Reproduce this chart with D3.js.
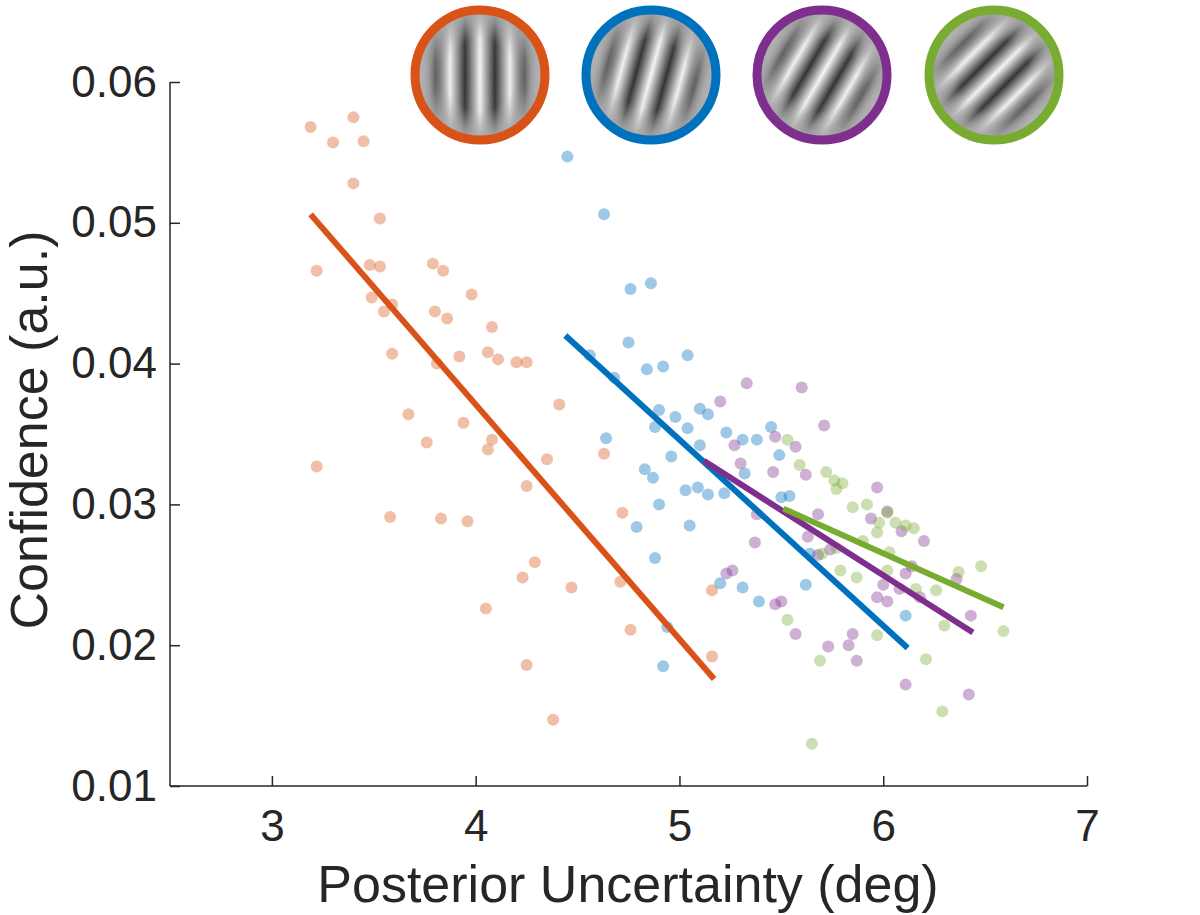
<!DOCTYPE html>
<html><head><meta charset="utf-8">
<script src="https://cdn.jsdelivr.net/npm/d3@7"></script>
<style>body{margin:0;background:#fff}</style></head>
<body><svg id="c" width="1200" height="915"></svg>
<script>
const xTicks=[3,4,5,6,7];
const yTicks=[0.01,0.02,0.03,0.04,0.05,0.06];
const colors=["#D95319","#0072BD","#7E2F8E","#77AC30"];
const orientations=[0,15,30,45];
const orangePts=[[3.19,0.0568],[3.30,0.0557],[3.40,0.0575],[3.45,0.0558],[3.40,0.0528],[3.53,0.0503],[3.22,0.0466],[3.48,0.0470],[3.53,0.0469],[3.49,0.0447],[3.55,0.0437],[3.59,0.0442],[3.59,0.0407],[3.79,0.0471],[3.84,0.0466],[3.80,0.0437],[3.86,0.0432],[3.81,0.0400],[3.92,0.0405],[3.98,0.0449],[4.08,0.0426],[4.06,0.0408],[4.11,0.0403],[4.20,0.0401],[4.25,0.0401],[4.41,0.0371],[3.67,0.0364],[3.76,0.0344],[3.94,0.0358],[4.08,0.0346],[4.06,0.0339],[4.35,0.0332],[3.22,0.0327],[4.25,0.0313],[3.58,0.0291],[3.83,0.0290],[3.96,0.0288],[4.63,0.0336],[4.72,0.0294],[4.29,0.0259],[4.23,0.0248],[4.47,0.0241],[4.71,0.0245],[5.16,0.0239],[4.76,0.0211],[4.05,0.0226],[4.25,0.0186],[4.38,0.0147],[5.16,0.0192]];
const bluePts=[[4.45,0.0547],[4.63,0.0506],[4.76,0.0453],[4.86,0.0457],[4.75,0.0415],[4.56,0.0406],[4.68,0.0390],[4.84,0.0396],[4.92,0.0398],[5.04,0.0406],[4.90,0.0367],[4.98,0.0362],[4.88,0.0355],[5.04,0.0354],[5.10,0.0368],[5.14,0.0364],[5.10,0.0342],[4.64,0.0347],[4.83,0.0325],[4.96,0.0334],[4.87,0.0319],[5.03,0.0310],[5.09,0.0312],[5.14,0.0307],[5.05,0.0285],[4.90,0.0300],[4.79,0.0284],[4.88,0.0262],[5.22,0.0308],[5.23,0.0351],[5.31,0.0346],[5.38,0.0346],[5.45,0.0355],[5.49,0.0335],[5.32,0.0322],[5.50,0.0305],[5.54,0.0306],[5.20,0.0244],[5.31,0.0241],[5.39,0.0231],[5.62,0.0243],[4.94,0.0213],[4.92,0.0185],[6.11,0.0221],[5.64,0.0265]];
const purplePts=[[5.33,0.0386],[5.20,0.0373],[5.60,0.0383],[5.47,0.0348],[5.71,0.0356],[5.57,0.0341],[5.27,0.0342],[5.30,0.0329],[5.46,0.0323],[5.62,0.0321],[5.97,0.0312],[5.94,0.0290],[6.02,0.0295],[6.09,0.0281],[6.20,0.0274],[5.68,0.0293],[5.38,0.0293],[5.37,0.0273],[5.63,0.0277],[5.74,0.0268],[5.68,0.0264],[5.26,0.0253],[5.23,0.0251],[6.11,0.0251],[6.14,0.0256],[6.08,0.0240],[6.00,0.0243],[5.97,0.0234],[6.02,0.0231],[6.18,0.0234],[5.50,0.0231],[5.47,0.0229],[5.57,0.0208],[5.73,0.0199],[5.85,0.0208],[5.83,0.0200],[5.87,0.0189],[6.11,0.0172],[6.42,0.0165],[6.43,0.0221],[6.36,0.0247]];
const greenPts=[[5.53,0.0346],[5.59,0.0328],[5.72,0.0323],[5.76,0.0317],[5.80,0.0315],[5.77,0.0311],[5.85,0.0298],[5.92,0.0300],[5.98,0.0287],[6.02,0.0294],[6.06,0.0287],[6.11,0.0285],[6.15,0.0283],[5.97,0.0280],[5.90,0.0274],[5.77,0.0269],[5.70,0.0265],[5.79,0.0253],[5.87,0.0248],[6.02,0.0253],[6.16,0.0240],[6.26,0.0239],[6.37,0.0252],[6.48,0.0256],[6.30,0.0214],[6.21,0.0190],[5.97,0.0207],[5.53,0.0218],[5.69,0.0189],[6.29,0.0153],[6.59,0.0210],[5.65,0.0130],[6.03,0.0266]];
const fitLines=[[[3.19,0.0506],[5.17,0.0176]],[[4.44,0.0420],[6.12,0.0198]],[[5.12,0.0331],[6.44,0.0209]],[[5.51,0.0297],[6.59,0.0227]]];
const series=[orangePts,bluePts,purplePts,greenPts];

const svg=d3.select("#c");
const x=d3.scaleLinear().domain([2.5,7]).range([170,1087]);
const y=d3.scaleLinear().domain([0.01,0.06]).range([786,82]);
const font="'Liberation Sans',Arial,sans-serif";
const ax="#262626";

const gx=svg.append("g").attr("transform","translate(0,786)")
 .call(d3.axisBottom(x).tickValues(xTicks).tickSize(-10).tickPadding(24).tickFormat(d3.format("d")));
const gy=svg.append("g").attr("transform","translate(170,0)")
 .call(d3.axisLeft(y).tickValues(yTicks).tickSize(-10).tickPadding(13).tickFormat(d3.format(".2f")));
[gx,gy].forEach(g=>{g.selectAll("path,line").attr("stroke",ax).attr("stroke-width",1.5);
 g.selectAll("text").attr("fill",ax).style("font-family",font).style("font-size","44px");});
gx.select(".domain").attr("d","M170,0H1087");
gy.select(".domain").attr("d","M0,786V82");

series.forEach((pts,i)=>{
 svg.append("g").selectAll("circle").data(pts).join("circle")
  .attr("cx",d=>x(d[0])).attr("cy",d=>y(d[1])).attr("r",6)
  .attr("fill",colors[i]).attr("fill-opacity",0.38);
});
const line=d3.line().x(d=>x(d[0])).y(d=>y(d[1]));
fitLines.forEach((l,i)=>svg.append("path").attr("d",line(l)).attr("stroke",colors[i]).attr("stroke-width",6).attr("fill","none"));

svg.append("text").attr("x",628).attr("y",902).attr("text-anchor","middle")
 .style("font-family",font).style("font-size","52px").attr("fill",ax).text("Posterior Uncertainty (deg)");
svg.append("text").attr("transform","translate(47,430) rotate(-90)").attr("text-anchor","middle")
 .style("font-family",font).style("font-size","52px").attr("fill",ax).text("Confidence (a.u.)");

// gratings
const defs=svg.append("defs");
const sg=defs.append("linearGradient").attr("id","stripe").attr("x1",0).attr("x2",1).attr("y1",0).attr("y2",0);
[[0,"#f6f6f6"],[0.5,"#2e2e2e"],[1,"#f6f6f6"]].forEach(s=>sg.append("stop").attr("offset",s[0]).attr("stop-color",s[1]));
const rg=defs.append("radialGradient").attr("id","fade");
[[0,0],[0.55,0.1],[0.85,0.75],[1,1]].forEach(s=>rg.append("stop").attr("offset",s[0]).attr("stop-color","#a8a8a8").attr("stop-opacity",s[1]));
const centers=[480,651,822,994];
centers.forEach((cx,i)=>{
 const cy=75,r=64;
 const cp=defs.append("clipPath").attr("id","cp"+i);
 cp.append("circle").attr("cx",cx).attr("cy",cy).attr("r",r);
 const g=svg.append("g").attr("clip-path","url(#cp"+i+")");
 const gg=g.append("g").attr("transform",`rotate(${orientations[i]},${cx},${cy})`);
 const period=30;
 for(let k=-5;k<5;k++){
  gg.append("rect").attr("x",cx+k*period).attr("y",cy-120).attr("width",period).attr("height",240).attr("fill","url(#stripe)");
 }
 g.append("circle").attr("cx",cx).attr("cy",cy).attr("r",r).attr("fill","url(#fade)");
 svg.append("circle").attr("cx",cx).attr("cy",cy).attr("r",r+1).attr("fill","none").attr("stroke",colors[i]).attr("stroke-width",9);
});
</script></body></html>
